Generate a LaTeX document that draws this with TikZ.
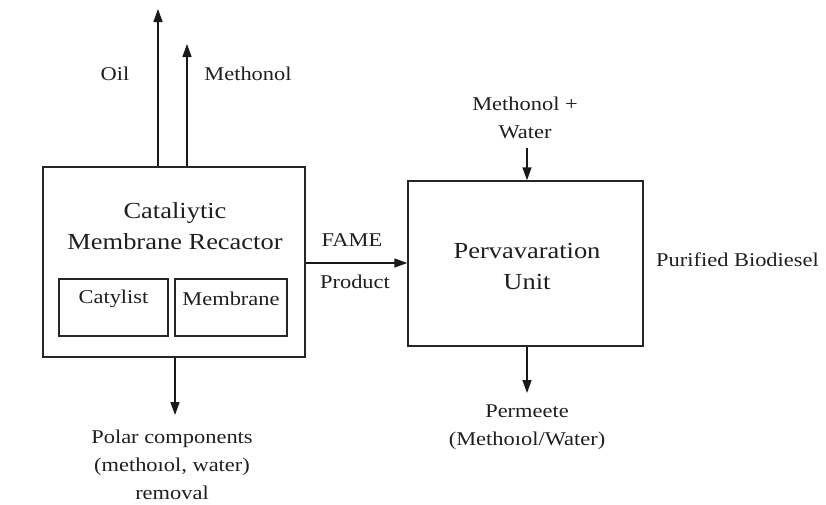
\documentclass[tikz,border=0pt]{standalone}
\usepackage{fontspec}
\setmainfont[FakeStretch=1.15]{Liberation Serif}
\usetikzlibrary{arrows.meta,calc}
\tikzset{
  box/.style={draw=black!85, line width=1.5pt, rectangle, inner sep=0pt},
  flow/.style={draw=black!90, line width=1.5pt, -{Triangle[length=13pt,width=9pt]}},
  bigtxt/.style={font=\fontsize{23}{31}\selectfont, align=center, inner sep=0pt, text=black!88},
  smalltxt/.style={font=\fontsize{19.5}{28}\selectfont, align=center, inner sep=0pt, text=black!88},
}
\begin{document}
\begin{tikzpicture}[x=1pt,y=-1pt]
\useasboundingbox (0,0) rectangle (826,504);
% boxes
\node[box, minimum width=262pt, minimum height=190pt] (crm) at (174,262) {};
\node[box, minimum width=235pt, minimum height=165pt] (perv) at (525.5,263.5) {};
\node[box, minimum width=109pt, minimum height=57pt] (cat) at (113.5,307.5) {};
\node[box, minimum width=112pt, minimum height=57pt] (mem) at (231,307.5) {};
% texts
\node[bigtxt] (crmtxt) at (175,226) {Cataliytic\\Membrane Recactor};
\node[smalltxt] (cattxt) at (113.5,299) {Catylist};
\node[smalltxt] (memtxt) at (231,299) {Membrane};
\node[bigtxt] (pervtxt) at (527,266) {Pervavaration\\Unit};
\node[smalltxt] (oil) at (115,74) {Oil};
\node[smalltxt] (meth) at (248,74) {Methonol};
\node[smalltxt] (fame) at (352,240) {FAME};
\node[smalltxt] (prod) at (355,282) {Product};
\node[smalltxt] (mw) at (525,118) {Methonol +\\Water};
\node[smalltxt, anchor=west] (bio) at (656,260) {Purified Biodiesel};
\node[smalltxt] (perm) at (527,427) {Permeete\\(Methoıol/Water)};
\node[smalltxt] (polar) at (172,465) {Polar components\\(methoıol, water)\\removal};
% coordinates
\coordinate (oilend) at (158,9);
\coordinate (methend) at (187,44);
\coordinate (polarend) at (175,415);
\coordinate (mwstart) at (527,148);
\coordinate (permend) at (527,393);
% connectors
\draw[flow] (crm.north -| oilend) -- (oilend);
\draw[flow] (crm.north -| methend) -- (methend);
\draw[flow] (crm.south -| polarend) -- (polarend);
\draw[flow] (crm.east |- 0,263) -- (perv.west |- 0,263);
\draw[flow] (mwstart) -- (perv.north -| mwstart);
\draw[flow] (perv.south -| permend) -- (permend);
\end{tikzpicture}
\end{document}
